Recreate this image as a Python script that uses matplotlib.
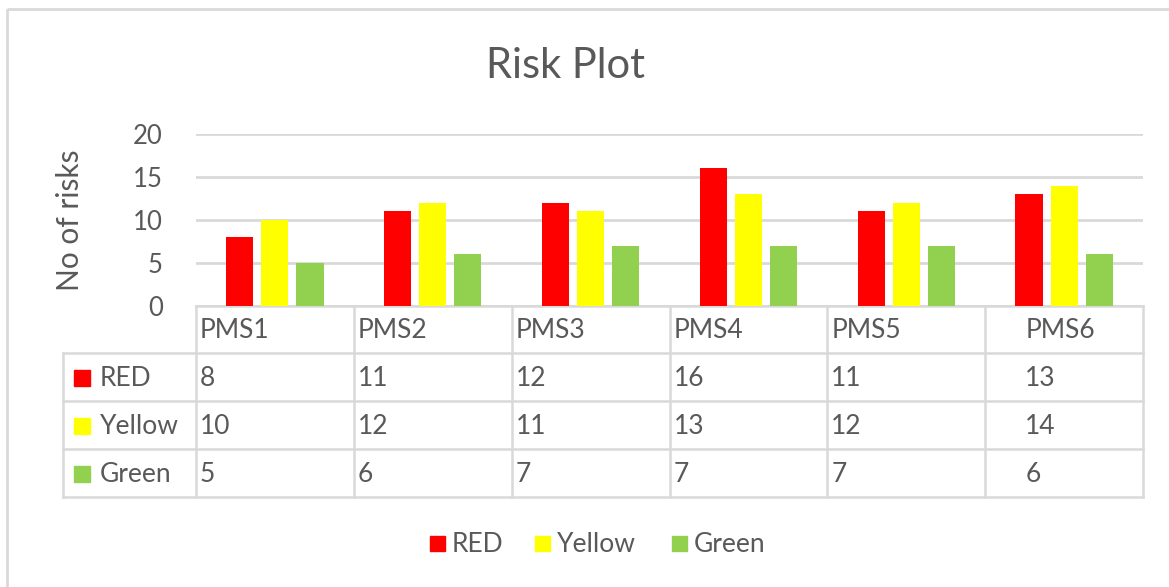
import matplotlib
matplotlib.use("Agg")
import matplotlib.pyplot as plt
from matplotlib.patches import Rectangle
from matplotlib.lines import Line2D

categories = ["PMS1", "PMS2", "PMS3", "PMS4", "PMS5", "PMS6"]
series_names = ["RED", "Yellow", "Green"]
red_values = [8, 11, 12, 16, 11, 13]
yellow_values = [10, 12, 11, 13, 12, 14]
green_values = [5, 6, 7, 7, 7, 6]
colors = ["#FF0000", "#FFFF00", "#92D050"]
yticks = [0, 5, 10, 15, 20]
title = "Risk Plot"
ylabel = "No of risks"

series_values = [red_values, yellow_values, green_values]

W, H = 1169, 587
TXT = "#595959"
GRID = "#D9D9D9"
FONT = "Lato"
plt.rcParams["font.family"] = [FONT, "DejaVu Sans"]

fig = plt.figure(figsize=(W / 100, H / 100), dpi=100)
fig.patch.set_facecolor("white")

# overlay axes in pixel coordinates for frame, table, legend
ov = fig.add_axes([0, 0, 1, 1])
ov.set_xlim(0, W)
ov.set_ylim(H, 0)
ov.axis("off")
ov.set_zorder(0)

# outer frame
ov.add_patch(Rectangle((7, 9), W, H, fill=False, edgecolor=GRID, lw=2))

# main plot area
L, R, T, B = 196, 1143, 134, 306
ax = fig.add_axes([L / W, 1 - B / H, (R - L) / W, (B - T) / H])
ax.set_zorder(2)
ax.patch.set_alpha(0)
n = len(categories)
x = list(range(n))
bw = 0.172
offs = [-0.222, 0.0, 0.222]
for vals, c, off in zip(series_values, colors, offs):
    ax.bar([i + off for i in x], vals, width=bw, color=c, zorder=3)
ax.set_xlim(-0.5, n - 0.5)
ax.set_ylim(0, 20)
ax.set_yticks(yticks)
ax.set_yticklabels([str(t) for t in yticks], fontsize=18.5, color=TXT)
ax.yaxis.grid(True, color=GRID, lw=2)
ax.set_axisbelow(True)
ax.tick_params(axis="y", length=0, pad=24)
ax.set_xticks([])
for s in ["top", "right", "left", "bottom"]:
    ax.spines[s].set_visible(False)
ax.set_ylabel(ylabel, fontsize=21.5, color=TXT)
ax.yaxis.set_label_coords((70 - L) / (R - L), 0.5)
ax.yaxis.label.set_va("center")

# title
ov.text(565, 66, title, fontsize=30, color=TXT, ha="center", va="center")

# table
col_x = [196 + i * (1143 - 196) / n for i in range(n + 1)]
row_y = [306, 353, 401, 449, 497]
left_x = 63
lwt = 1.8
for xv in col_x:
    ov.add_line(Line2D([xv, xv], [row_y[0], row_y[-1]], color=GRID, lw=lwt))
ov.add_line(Line2D([left_x, left_x], [row_y[1], row_y[-1]], color=GRID, lw=lwt))
ov.add_line(Line2D([col_x[0], col_x[-1]], [row_y[0], row_y[0]], color=GRID, lw=lwt))
for yv in row_y[1:]:
    ov.add_line(Line2D([left_x, col_x[-1]], [yv, yv], color=GRID, lw=lwt))

fs_tab = 19
text_dx = [4, 4, 4, 4, 4, 40]
for j, cat in enumerate(categories):
    ov.text(col_x[j] + text_dx[j], (row_y[0] + row_y[1]) / 2 + 1, cat,
            fontsize=fs_tab, color=TXT, ha="left", va="center")
for r, (name, vals, c) in enumerate(zip(series_names, series_values, colors)):
    yc = (row_y[r + 1] + row_y[r + 2]) / 2 + 1
    ov.add_patch(Rectangle((74, yc - 8), 16, 16, color=c))
    ov.text(100, yc, name, fontsize=fs_tab, color=TXT, ha="left", va="center")
    for j, v in enumerate(vals):
        ov.text(col_x[j] + text_dx[j], yc, str(v), fontsize=fs_tab, color=TXT,
                ha="left", va="center")

# bottom legend
leg_x = [430, 535, 672]
leg_y = 544
for name, c, lx in zip(series_names, colors, leg_x):
    ov.add_patch(Rectangle((lx, leg_y - 8), 15, 15, color=c))
    ov.text(lx + 22, leg_y, name, fontsize=fs_tab, color=TXT, ha="left", va="center")

fig.savefig("out.png", dpi=100, facecolor="white")
